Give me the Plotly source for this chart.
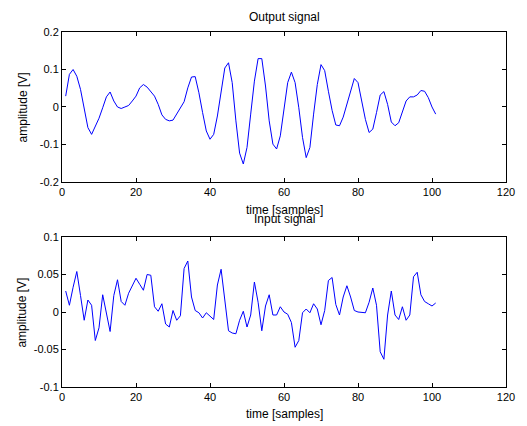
import plotly.graph_objects as go

samples = list(range(1, 102))

output_signal = [
    0.029, 0.087, 0.100, 0.082, 0.047, -0.006, -0.055, -0.073, -0.053, -0.030,
    -0.002, 0.027, 0.040, 0.016, 0.000, -0.004, 0.000, 0.004, 0.016, 0.029,
    0.051, 0.060, 0.053, 0.041, 0.029, 0.007, -0.021, -0.033, -0.037, -0.035,
    -0.019, -0.002, 0.014, 0.051, 0.080, 0.081, 0.038, -0.015, -0.064, -0.086,
    -0.073, -0.024, 0.042, 0.104, 0.118, 0.065, -0.037, -0.123, -0.152, -0.108,
    -0.019, 0.069, 0.129, 0.129, 0.056, -0.037, -0.099, -0.112, -0.077, -0.002,
    0.065, 0.093, 0.065, -0.002, -0.081, -0.135, -0.108, -0.019, 0.060, 0.113,
    0.097, 0.042, -0.009, -0.048, -0.050, -0.027, 0.009, 0.047, 0.076, 0.065,
    0.020, -0.033, -0.068, -0.059, -0.015, 0.032, 0.041, 0.007, -0.040, -0.050,
    -0.042, -0.011, 0.016, 0.027, 0.027, 0.032, 0.044, 0.042, 0.025, 0.000,
    -0.019,
]

input_signal = [
    0.028, 0.009, 0.033, 0.054, 0.022, -0.011, 0.016, 0.009, -0.038, -0.021,
    0.023, -0.002, -0.026, 0.022, 0.043, 0.014, 0.009, 0.025, 0.036, 0.045,
    0.037, 0.029, 0.050, 0.049, 0.007, 0.001, 0.011, -0.016, -0.020, 0.002,
    -0.011, -0.005, 0.058, 0.068, 0.020, 0.002, -0.001, -0.008, -0.001, -0.005,
    -0.010, 0.036, 0.057, 0.016, -0.025, -0.028, -0.029, -0.011, 0.001, -0.020,
    -0.004, 0.040, 0.013, -0.025, 0.008, 0.023, -0.004, -0.004, 0.007, 0.000,
    -0.003, -0.014, -0.047, -0.038, -0.001, 0.004, -0.001, 0.011, 0.004, -0.017,
    0.002, 0.042, 0.046, 0.010, -0.004, 0.020, 0.035, 0.020, 0.002, 0.000,
    -0.001, -0.001, 0.013, 0.032, 0.009, -0.053, -0.063, -0.004, 0.028, -0.004,
    -0.010, 0.007, -0.011, -0.004, 0.047, 0.053, 0.023, 0.014, 0.011, 0.008,
    0.012,
]

x_ticks = [0, 20, 40, 60, 80, 100, 120]
top_y_ticks = [0.2, 0.1, 0, -0.1, -0.2]
top_y_labels = ["0.2", "0.1", "0", "-0.1", "-0.2"]
bot_y_ticks = [0.1, 0.05, 0, -0.05, -0.1]
bot_y_labels = ["0.1", "0.05", "0", "-0.05", "-0.1"]

FONT = "Liberation Sans, Arial, sans-serif"

fig = go.Figure()
fig.add_trace(go.Scatter(x=samples, y=output_signal, mode="lines",
                         line=dict(color="#0000ff", width=1), xaxis="x", yaxis="y"))
fig.add_trace(go.Scatter(x=samples, y=input_signal, mode="lines",
                         line=dict(color="#0000ff", width=1), xaxis="x2", yaxis="y2"))

axis_common = dict(showline=True, linecolor="black", linewidth=1, mirror="ticks",
                   ticks="inside", ticklen=4, tickcolor="black", showgrid=False,
                   zeroline=False, tickfont=dict(family=FONT, size=11, color="black"))

fig.update_layout(
    width=519, height=418,
    margin=dict(l=54, r=15, t=24, b=39),
    paper_bgcolor="white", plot_bgcolor="white",
    showlegend=False,
    xaxis=dict(domain=[0, 1], range=[0, 120], tickvals=x_ticks, anchor="y", **axis_common),
    yaxis=dict(domain=[0.5775, 1], range=[-0.2, 0.2], tickvals=top_y_ticks,
               ticktext=top_y_labels, anchor="x", **axis_common),
    xaxis2=dict(domain=[0, 1], range=[0, 120], tickvals=x_ticks, anchor="y2", **axis_common),
    yaxis2=dict(domain=[0, 0.4225], range=[-0.1, 0.1], tickvals=bot_y_ticks,
                ticktext=bot_y_labels, anchor="x2", **axis_common),
)

ann_font = dict(family=FONT, size=12, color="black")
annotations = [
    dict(text="Output signal", x=0.5, y=1.042, xref="paper", yref="paper",
         showarrow=False, font=ann_font, xanchor="center", yanchor="middle"),
    dict(text="time [samples]", x=0.5, y=0.4986, xref="paper", yref="paper",
         showarrow=False, font=ann_font, xanchor="center", yanchor="middle"),
    dict(text="Input signal", x=0.5, y=0.473, xref="paper", yref="paper",
         showarrow=False, font=ann_font, xanchor="center", yanchor="middle"),
    dict(text="time [samples]", x=0.5, y=-0.076, xref="paper", yref="paper",
         showarrow=False, font=ann_font, xanchor="center", yanchor="middle"),
    dict(text="amplitude [V]", x=-0.089, y=0.789, xref="paper", yref="paper",
         showarrow=False, font=ann_font, textangle=-90, xanchor="center", yanchor="middle"),
    dict(text="amplitude [V]", x=-0.089, y=0.211, xref="paper", yref="paper",
         showarrow=False, font=ann_font, textangle=-90, xanchor="center", yanchor="middle"),
]
fig.update_layout(annotations=annotations)

fig.write_html("out.html")
